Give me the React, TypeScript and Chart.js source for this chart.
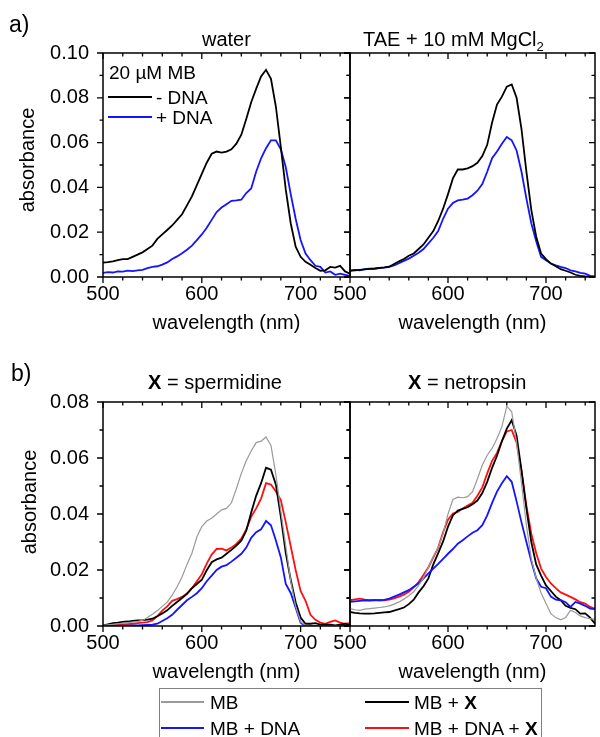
import React, { useEffect, useRef } from 'react';
import { Chart, registerables } from 'chart.js';

Chart.register(...registerables);
Chart.defaults.font.family = "'Liberation Sans', Arial, sans-serif";

// ---------- data ----------
const wavelengths = [
  500, 505, 510, 515, 520, 525, 530, 535, 540, 545, 550, 555, 560, 565, 570, 575, 580, 585, 590, 595,
  600, 605, 610, 615, 620, 625, 630, 635, 640, 645, 650, 655, 660, 665, 670, 675, 680, 685, 690, 695,
  700, 705, 710, 715, 720, 725, 730, 735, 740, 745, 750,
];

const waterNoDNA = [
  0.0064, 0.0066, 0.007, 0.0075, 0.008, 0.008, 0.009, 0.01, 0.011, 0.0125, 0.014, 0.017, 0.019, 0.021, 0.023, 0.0255, 0.028, 0.032, 0.036, 0.041,
  0.046, 0.051, 0.055, 0.056, 0.0555, 0.056, 0.057, 0.0595, 0.0635, 0.0705, 0.078, 0.084, 0.0895, 0.0925, 0.0885, 0.076, 0.058, 0.039, 0.024, 0.0135,
  0.009, 0.0068, 0.0055, 0.004, 0.0028, 0.003, 0.0045, 0.0042, 0.005, 0.0025, 0.0015,
];
const waterDNA = [
  0.0018, 0.0022, 0.002, 0.0025, 0.0024, 0.0028, 0.0026, 0.003, 0.0032, 0.004, 0.0045, 0.0048, 0.0055, 0.0065, 0.008, 0.0092, 0.0106, 0.0122, 0.014, 0.0165,
  0.019, 0.022, 0.0255, 0.029, 0.031, 0.0325, 0.034, 0.0342, 0.0345, 0.0375, 0.0395, 0.047, 0.053, 0.0575, 0.061, 0.061, 0.057, 0.049, 0.037, 0.026,
  0.0165, 0.0105, 0.0075, 0.005, 0.0045, 0.002, 0.0025, 0.001, 0.0015, 0.001, 0.0005,
];
const taeNoDNA = [
  0.0027, 0.003, 0.0032, 0.0034, 0.0036, 0.0038, 0.0041, 0.0043, 0.0046, 0.0058, 0.007, 0.008, 0.0095, 0.0105, 0.0125, 0.0145, 0.0175, 0.0205, 0.025, 0.0305,
  0.037, 0.044, 0.048, 0.048, 0.0485, 0.0495, 0.051, 0.054, 0.059, 0.069, 0.077, 0.0805, 0.085, 0.086, 0.08, 0.066, 0.047, 0.03, 0.018, 0.0105,
  0.008, 0.006, 0.0048, 0.0035, 0.0028, 0.002, 0.001, 0.0005, 0.0003, 0.0002, 0.0,
];
const taeDNA = [
  0.003, 0.0032, 0.003, 0.0035, 0.0037, 0.0036, 0.004, 0.0042, 0.0045, 0.0052, 0.0062, 0.0072, 0.0082, 0.0095, 0.0108, 0.0125, 0.015, 0.0175, 0.0205, 0.026,
  0.0305, 0.033, 0.0342, 0.0345, 0.035, 0.0365, 0.0385, 0.0415, 0.047, 0.053, 0.056, 0.0595, 0.0625, 0.061, 0.0565, 0.047, 0.035, 0.024, 0.016, 0.009,
  0.0075, 0.006, 0.0052, 0.0045, 0.004, 0.003, 0.0025, 0.0018, 0.0015, 0.0005, 0.0003,
];

const spermMB = [
  0.0002, 0.0004, 0.0006, 0.0008, 0.001, 0.0012, 0.0014, 0.0016, 0.002, 0.003, 0.0042, 0.0055, 0.007, 0.0085, 0.011, 0.014, 0.0175, 0.022, 0.026, 0.0318,
  0.0355, 0.0375, 0.0385, 0.04, 0.0415, 0.042, 0.044, 0.049, 0.0545, 0.059, 0.0625, 0.0655, 0.066, 0.0675, 0.0645, 0.054, 0.041, 0.0285, 0.016, 0.007,
  0.0015, 0.0002, 0.0, 0.0, 0.0, 0.0, 0.0, 0.0, 0.0, 0.0, 0.0,
];
const spermMBX = [
  0.0002, 0.0006, 0.001, 0.0012, 0.0015, 0.0016, 0.0018, 0.002, 0.0021, 0.0023, 0.0026, 0.0035, 0.0045, 0.0056, 0.0072, 0.0086, 0.01, 0.0115, 0.0135, 0.015,
  0.0165, 0.0199, 0.0228, 0.0238, 0.0244, 0.0258, 0.0272, 0.0287, 0.0305, 0.034, 0.0405, 0.0465, 0.051, 0.0565, 0.0558, 0.0505, 0.039, 0.026, 0.0165, 0.0085,
  0.003, 0.0008, 0.0008, 0.001, 0.0005, 0.0005, 0.0005, 0.0002, 0.0005, 0.0008, 0.0002,
];
const spermMBDNA = [
  0.0, 0.0, 0.0001, 0.0001, 0.0001, 0.0001, 0.0002, 0.0002, 0.0003, 0.0004, 0.0005, 0.0008, 0.0018, 0.0028, 0.004, 0.0058, 0.0075, 0.0092, 0.0104, 0.0117,
  0.0135, 0.016, 0.018, 0.02, 0.0212, 0.0217, 0.023, 0.0244, 0.0258, 0.028, 0.0315, 0.0335, 0.0345, 0.0375, 0.036, 0.0305, 0.0245, 0.015, 0.0118, 0.0065,
  0.0012, 0.0, 0.0, 0.0, 0.0, 0.0, 0.0, 0.0, 0.0, 0.0, 0.0,
];
const spermMBDNAX = [
  0.0, 0.0003, 0.0004, 0.0005, 0.0006, 0.0007, 0.0008, 0.001, 0.0012, 0.0014, 0.002, 0.0035, 0.0055, 0.007, 0.009, 0.0096, 0.0104, 0.0116, 0.0135, 0.016,
  0.0185, 0.0223, 0.0255, 0.0275, 0.0276, 0.027, 0.028, 0.0293, 0.0312, 0.0345, 0.039, 0.042, 0.0455, 0.051, 0.0505, 0.048, 0.045, 0.037, 0.0285, 0.02,
  0.0125, 0.009, 0.004, 0.0022, 0.0012, 0.0008, 0.0015, 0.002, 0.0012, 0.0008, 0.001,
];

const netrMB = [
  0.0062, 0.0058, 0.0056, 0.006, 0.0062, 0.0064, 0.0066, 0.0068, 0.0072, 0.0078, 0.0086, 0.0096, 0.0108, 0.0122, 0.0145, 0.0172, 0.021, 0.0248, 0.028, 0.033,
  0.04, 0.0452, 0.046, 0.0458, 0.0462, 0.048, 0.0525, 0.0575, 0.061, 0.0635, 0.067, 0.0712, 0.0785, 0.0765, 0.0655, 0.051, 0.036, 0.024, 0.017, 0.0118,
  0.008, 0.0044, 0.003, 0.0022, 0.003, 0.0056, 0.0048, 0.0036, 0.003, 0.0026, 0.0024,
];
const netrMBX = [
  0.005, 0.0047, 0.0045, 0.0044, 0.0044, 0.0045, 0.0047, 0.0049, 0.005, 0.0055, 0.006, 0.0066, 0.0078, 0.0094, 0.012, 0.0142, 0.017, 0.022, 0.026, 0.0302,
  0.0355, 0.0395, 0.0412, 0.0418, 0.0424, 0.0435, 0.0448, 0.0475, 0.0515, 0.0565, 0.0608, 0.066, 0.0705, 0.0735, 0.068, 0.0555, 0.042, 0.03, 0.022, 0.018,
  0.0145, 0.0125, 0.0105, 0.0092, 0.0072, 0.0065, 0.006, 0.0044, 0.0045, 0.003, 0.0008,
];
const netrMBDNA = [
  0.0086, 0.0088, 0.009, 0.0092, 0.0091, 0.0092, 0.0092, 0.0093, 0.0098, 0.0105, 0.0112, 0.012, 0.0128, 0.014, 0.0152, 0.017, 0.0188, 0.0205, 0.0222, 0.024,
  0.0258, 0.0275, 0.0294, 0.0306, 0.032, 0.0333, 0.0342, 0.036, 0.0395, 0.044, 0.048, 0.051, 0.0535, 0.0515, 0.0445, 0.037, 0.03, 0.0232, 0.017, 0.014,
  0.0135, 0.0105, 0.0094, 0.0092, 0.0085, 0.0068, 0.0086, 0.008, 0.0072, 0.0062, 0.006,
];
const netrMBDNAX = [
  0.0092, 0.0095, 0.0098, 0.0094, 0.0092, 0.0093, 0.0092, 0.0092, 0.0094, 0.0099, 0.0105, 0.0112, 0.0122, 0.0138, 0.0157, 0.0182, 0.021, 0.0245, 0.028, 0.0335,
  0.038, 0.0402, 0.0407, 0.042, 0.043, 0.044, 0.0465, 0.0495, 0.0545, 0.059, 0.0618, 0.066, 0.0695, 0.07, 0.0655, 0.0555, 0.043, 0.033, 0.026, 0.0205,
  0.0175, 0.0152, 0.0135, 0.012, 0.0112, 0.0104, 0.0095, 0.0085, 0.008, 0.0068, 0.0062,
];

const xTickValues = [500, 600, 700];
const yTicksA = [0, 0.02, 0.04, 0.06, 0.08, 0.1];
const yTicksB = [0, 0.02, 0.04, 0.06, 0.08];

// ---------- styling ----------
const W = 600;
const H = 737;
const XAXIS_H = 60;
const GREY = '#9a9a9a';
const BLACK = '#000000';
const BLUE = '#1414ff';
const RED = '#ff1010';
const FONT = "'Liberation Sans', Arial, sans-serif";

type Series = { label: string; values: number[]; color: string; width: number };
type PanelSpec = {
  left: number; right: number; top: number; bottom: number;
  yMax: number; yTicks: number[]; showY: boolean; series: Series[];
};

const panels: PanelSpec[] = [
  {
    left: 103, right: 350, top: 53, bottom: 277, yMax: 0.1, yTicks: yTicksA, showY: true,
    series: [
      { label: '- DNA', values: waterNoDNA, color: BLACK, width: 1.8 },
      { label: '+ DNA', values: waterDNA, color: BLUE, width: 1.8 },
    ],
  },
  {
    left: 350, right: 598, top: 53, bottom: 277, yMax: 0.1, yTicks: yTicksA, showY: false,
    series: [
      { label: '- DNA', values: taeNoDNA, color: BLACK, width: 1.8 },
      { label: '+ DNA', values: taeDNA, color: BLUE, width: 1.8 },
    ],
  },
  {
    left: 103, right: 350, top: 402, bottom: 626, yMax: 0.08, yTicks: yTicksB, showY: true,
    series: [
      { label: 'MB', values: spermMB, color: GREY, width: 1.2 },
      { label: 'MB + DNA', values: spermMBDNA, color: BLUE, width: 1.8 },
      { label: 'MB + X', values: spermMBX, color: BLACK, width: 1.8 },
      { label: 'MB + DNA + X', values: spermMBDNAX, color: RED, width: 1.8 },
    ],
  },
  {
    left: 350, right: 598, top: 402, bottom: 626, yMax: 0.08, yTicks: yTicksB, showY: false,
    series: [
      { label: 'MB', values: netrMB, color: GREY, width: 1.2 },
      { label: 'MB + DNA', values: netrMBDNA, color: BLUE, width: 1.8 },
      { label: 'MB + X', values: netrMBX, color: BLACK, width: 1.8 },
      { label: 'MB + DNA + X', values: netrMBDNAX, color: RED, width: 1.8 },
    ],
  },
];

// frame + major/minor ticks (bottom/left outward, top/right inward)
const framePlugin = {
  id: 'frameTicks',
  afterDatasetsDraw(chart: any) {
    const { ctx, chartArea: a, scales } = chart;
    const xs = scales.x;
    const ys = scales.y;
    const MAJ = 6;
    const MIN = 3.5;
    ctx.save();
    ctx.strokeStyle = '#000';
    ctx.lineWidth = 1.5;
    ctx.strokeRect(a.left, a.top, a.right - a.left, a.bottom - a.top);
    ctx.lineWidth = 1.3;
    ctx.beginPath();
    for (let i = 0; ; i++) {
      const v = xs.min + i * 20;
      if (v > xs.max + 1e-6) break;
      const len = v % 100 === 0 ? MAJ : MIN;
      const px = xs.getPixelForValue(v);
      ctx.moveTo(px, a.bottom);
      ctx.lineTo(px, a.bottom + len);
      ctx.moveTo(px, a.top);
      ctx.lineTo(px, a.top + len);
    }
    for (let i = 0; ; i++) {
      const v = ys.min + i * 0.01;
      if (v > ys.max + 1e-9) break;
      const len = i % 2 === 0 ? MAJ : MIN;
      const py = ys.getPixelForValue(v);
      ctx.moveTo(a.left - len, py);
      ctx.lineTo(a.left, py);
      ctx.moveTo(a.right - len, py);
      ctx.lineTo(a.right, py);
    }
    ctx.stroke();
    ctx.restore();
  },
};

function Panel({ spec }: { spec: PanelSpec }) {
  const ref = useRef<HTMLCanvasElement | null>(null);
  useEffect(() => {
    if (!ref.current) return;
    const chart = new Chart(ref.current, {
      type: 'line',
      data: {
        datasets: spec.series.map((s) => ({
          label: s.label,
          data: wavelengths.map((w, i) => ({ x: w, y: s.values[i] })),
          borderColor: s.color,
          borderWidth: s.width,
          pointRadius: 0,
          fill: false,
          tension: 0,
        })),
      },
      options: {
        responsive: false,
        animation: false,
        events: [],
        layout: {
          padding: {
            left: spec.showY ? 0 : spec.left,
            right: W - spec.right,
            top: spec.top,
            bottom: H - spec.bottom - XAXIS_H,
          },
        },
        plugins: { legend: { display: false }, tooltip: { enabled: false } },
        scales: {
          x: {
            type: 'linear',
            min: 500,
            max: 750,
            afterFit: (s: any) => { s.height = XAXIS_H; },
            grid: { display: false, drawTicks: false },
            border: { display: false },
            afterBuildTicks: (s: any) => {
              s.ticks = [...xTickValues, 750].map((v) => ({ value: v }));
            },
            ticks: {
              autoSkip: false,
              maxRotation: 0,
              padding: 5,
              color: '#000',
              font: { size: 20, family: FONT },
              callback: (v: any) => (xTickValues.includes(Number(v)) ? String(v) : ''),
            },
            title: {
              display: true,
              text: 'wavelength (nm)',
              color: '#000',
              font: { size: 20, family: FONT },
              padding: { top: 0, bottom: 2 },
            },
          },
          y: {
            type: 'linear',
            min: 0,
            max: spec.yMax,
            display: spec.showY,
            afterFit: (s: any) => { s.width = spec.showY ? spec.left : 0; },
            afterBuildTicks: (s: any) => {
              s.ticks = spec.yTicks.map((v) => ({ value: v }));
            },
            grid: { display: false, drawTicks: false },
            border: { display: false },
            ticks: {
              padding: 14,
              color: '#000',
              font: { size: 20, family: FONT },
              callback: (v: any) => Number(v).toFixed(2),
            },
          },
        },
      } as any,
      plugins: [framePlugin],
    });
    return () => chart.destroy();
  }, [spec]);
  return (
    <canvas
      ref={ref}
      width={W}
      height={H}
      style={{ position: 'absolute', left: 0, top: 0, width: W, height: H }}
    />
  );
}

const txt: React.CSSProperties = {
  position: 'absolute',
  fontFamily: FONT,
  color: '#000',
  whiteSpace: 'nowrap',
  lineHeight: 1,
};

function LineKey({ left, top, color, width, thick }: { left: number; top: number; color: string; width: number; thick: number }) {
  return (
    <div style={{ position: 'absolute', left, top: top - thick / 2, width, height: thick, background: color }} />
  );
}

export default function App() {
  return (
    <div style={{ position: 'absolute', left: 0, top: 0, width: W, height: H, overflow: 'hidden', background: '#fff' }}>
      {panels.map((p, i) => (
        <Panel key={i} spec={p} />
      ))}

      {/* panel letters */}
      <div style={{ ...txt, left: 9, top: 13, fontSize: 23 }}>a)</div>
      <div style={{ ...txt, left: 11, top: 362, fontSize: 23 }}>b)</div>

      {/* panel titles */}
      <div style={{ ...txt, left: 202, top: 29, fontSize: 20 }}>water</div>
      <div style={{ ...txt, left: 363, top: 29, fontSize: 20 }}>
        TAE + 10 mM MgCl<sub style={{ fontSize: 13, verticalAlign: -5 }}>2</sub>
      </div>
      <div style={{ ...txt, left: 148, top: 372, fontSize: 20 }}>
        <b>X</b> = spermidine
      </div>
      <div style={{ ...txt, left: 408, top: 372, fontSize: 20 }}>
        <b>X</b> = netropsin
      </div>

      {/* y axis titles */}
      <div style={{ ...txt, left: 27, top: 160, fontSize: 20, transform: 'translate(-50%, -50%) rotate(-90deg)' }}>absorbance</div>
      <div style={{ ...txt, left: 29, top: 502, fontSize: 20, transform: 'translate(-50%, -50%) rotate(-90deg)' }}>absorbance</div>

      {/* inset legend in panel a */}
      <div style={{ ...txt, left: 109, top: 63, fontSize: 19 }}>20 µM MB</div>
      <LineKey left={108} top={97} color={BLACK} width={44} thick={2} />
      <div style={{ ...txt, left: 156, top: 88, fontSize: 19 }}>- DNA</div>
      <LineKey left={108} top={117} color={BLUE} width={44} thick={2} />
      <div style={{ ...txt, left: 156, top: 108, fontSize: 19 }}>+ DNA</div>

      {/* bottom legend */}
      <div style={{ position: 'absolute', left: 159, top: 688, width: 383, height: 70, border: '1px solid #808080', boxSizing: 'border-box' }} />
      <LineKey left={161} top={702} color={GREY} width={43} thick={1.5} />
      <div style={{ ...txt, left: 210, top: 693, fontSize: 19 }}>MB</div>
      <LineKey left={365} top={702} color={BLACK} width={44} thick={2} />
      <div style={{ ...txt, left: 414, top: 693, fontSize: 19 }}>MB + <b>X</b></div>
      <LineKey left={161} top={728} color={BLUE} width={43} thick={2} />
      <div style={{ ...txt, left: 210, top: 719, fontSize: 19 }}>MB + DNA</div>
      <LineKey left={365} top={728} color={RED} width={44} thick={2} />
      <div style={{ ...txt, left: 414, top: 719, fontSize: 19 }}>MB + DNA + <b>X</b></div>
    </div>
  );
}
